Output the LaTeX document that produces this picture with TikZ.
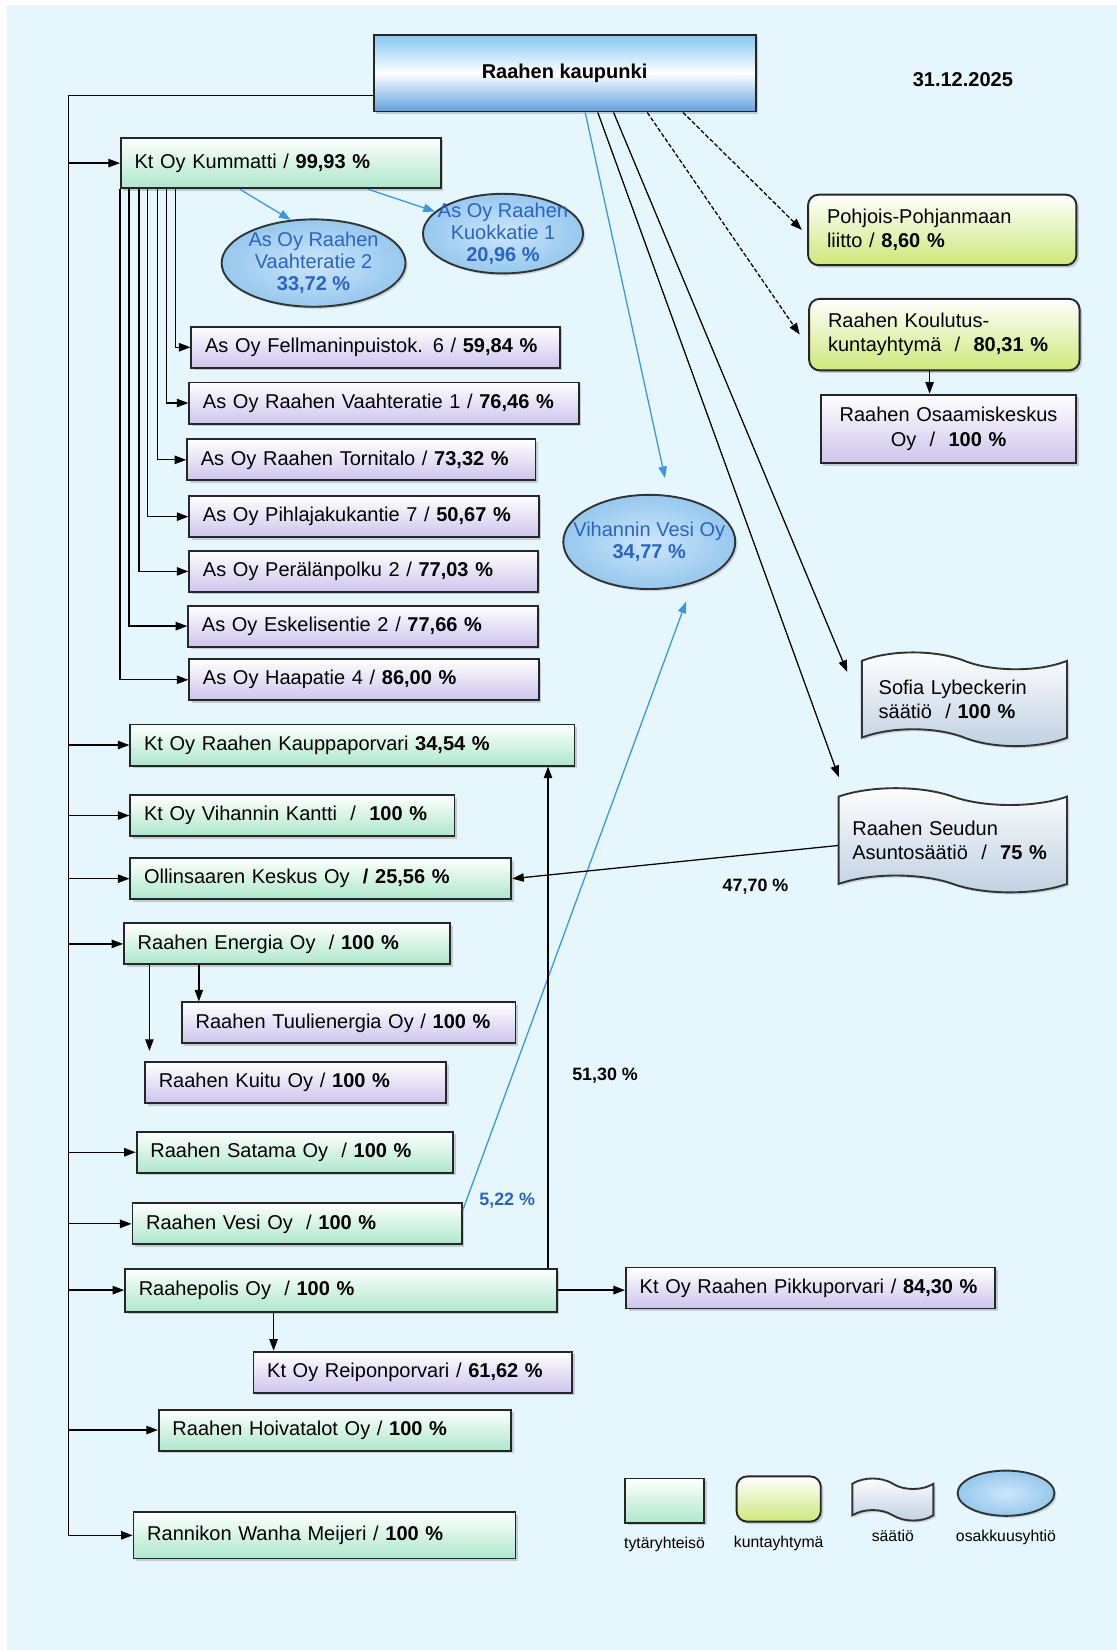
\documentclass[tikz,border=0pt]{standalone}
\usepackage{fontspec}
\setmainfont{Liberation Sans}
\usepackage{tikz}
\usetikzlibrary{calc,shapes,positioning}
\usetikzlibrary{arrows.meta}
\usetikzlibrary{shadows}
\tikzset{>={Triangle[width=4pt,length=5.5pt]}}

\definecolor{bgblue}{RGB}{229,246,252}
\definecolor{mint}{RGB}{172,232,202}
\definecolor{lilac}{RGB}{205,196,236}
\definecolor{lime}{RGB}{205,232,120}
\definecolor{citytop}{RGB}{130,200,242}
\definecolor{citybot}{RGB}{95,160,222}
\definecolor{ovalblue}{RGB}{150,200,238}
\definecolor{ovallight}{RGB}{205,230,250}
\definecolor{linkblue}{RGB}{55,150,230}
\definecolor{textblue}{RGB}{40,100,200}
\definecolor{flaggray}{RGB}{190,208,225}

\newcommand{\boxfont}{\fontsize{9.5}{11.5}\selectfont}
\newcommand{\ovalfont}{\fontsize{9.5}{10.5}\selectfont}
\newcommand{\legfont}{\fontsize{7.5}{9}\selectfont}
\newcommand{\pctfont}{\fontsize{8.5}{10}\selectfont\bfseries}

\begin{document}
\begin{tikzpicture}[x=0.5pt, y=-0.5pt, line width=0.6pt]
  \tikzstyle{box} = [draw=black!85, line width=0.9pt, anchor=west, minimum height=19.5pt, inner xsep=6.5pt, inner ysep=2pt, align=left, font=\boxfont, drop shadow={opacity=0.35, shadow xshift=1.2pt, shadow yshift=-1.2pt}]
  \tikzstyle{gbox} = [box, top color=white, bottom color=mint]
  \tikzstyle{lbox} = [box, top color=white, bottom color=lilac]
  \tikzstyle{kbox} = [box, rounded corners=5pt, inner xsep=9pt, top color=white, bottom color=lime]
  \tikzstyle{citybox} = [draw=black!85, line width=0.9pt, minimum width=181.5pt, minimum height=36.5pt, top color=citytop, bottom color=citybot, middle color=white, font=\boxfont\bfseries, drop shadow={opacity=0.35, shadow xshift=1.2pt, shadow yshift=-1.2pt}]
  \tikzstyle{oval} = [ellipse, draw=black!80, line width=0.9pt, inner sep=0pt, inner color=ovallight, outer color=ovalblue, align=center, text=textblue, font=\ovalfont, drop shadow={opacity=0.3, shadow xshift=1pt, shadow yshift=-1pt}]
  \tikzstyle{flag} = [tape, tape bend top=out and in, tape bend bottom=out and in, tape bend height=8pt, draw=black!80, line width=0.9pt, top color=white, bottom color=flaggray, align=left, font=\boxfont, drop shadow={opacity=0.3, shadow xshift=1pt, shadow yshift=-1pt}]
  \tikzstyle{pct} = [font=\pctfont]
  \tikzstyle{legtext} = [font=\legfont, inner sep=1pt]

  \useasboundingbox (0,0) rectangle (1061,1568);
  \fill[white] (0,0) rectangle (1061,1568);
  \fill[bgblue] (7,5) rectangle (1061,1568);

  % owner
  \node[citybox] (city) at (536.5,69.5) {Raahen kaupunki};
  \node[font=\boxfont\bfseries] (date) at (915,76) {31.12.2025};

  % Kummatti and its housing companies
  \node[gbox, text width=139pt, minimum height=24pt] (kummatti) at (114,155) {Kt Oy Kummatti / \textbf{99,93 \%}};
  \node[oval] (vaaht2) at (298,250) {As Oy Raahen\\Vaahteratie 2\\\textbf{33,72 \%}};
  \node[oval, inner xsep=-4pt, inner ysep=-1.3pt] (kuokka) at (478,222) {As Oy Raahen\\Kuokkatie 1\\\textbf{20,96 \%}};
  \node[lbox, text width=162pt] (fellman) at (181,330) {As Oy Fellmaninpuistok. 6 / \textbf{59,84 \%}};
  \node[lbox, text width=172pt] (vaaht1) at (179,383) {As Oy Raahen Vaahteratie 1 / \textbf{76,46 \%}};
  \node[lbox, text width=152.5pt] (tornit) at (177,437) {As Oy Raahen Tornitalo / \textbf{73,32 \%}};
  \node[lbox, text width=153pt] (pihlaja) at (179,491) {As Oy Pihlajakukantie 7 / \textbf{50,67 \%}};
  \node[lbox, text width=152.5pt] (peralan) at (179,543) {As Oy Perälänpolku 2 / \textbf{77,03 \%}};
  \node[lbox, text width=153pt] (eskel) at (178,595) {As Oy Eskelisentie 2 / \textbf{77,66 \%}};
  \node[lbox, text width=153pt] (haapa) at (179,646) {As Oy Haapatie 4 / \textbf{86,00 \%}};

  % subsidiaries on the trunk
  \node[gbox, text width=198pt] (kauppa) at (123,708) {Kt Oy Raahen Kauppaporvari \textbf{34,54 \%}};
  \node[gbox, text width=141pt] (kantti) at (123,775) {Kt Oy Vihannin Kantti \ / \ \textbf{100 \%}};
  \node[gbox, text width=168pt] (olli) at (123,835) {Ollinsaaren Keskus Oy \ \textbf{/ 25,56 \%}};
  \node[gbox, text width=142pt] (energia) at (117,897) {Raahen Energia Oy \ / \textbf{100 \%}};
  \node[lbox, text width=145.5pt] (tuuli) at (172,972) {Raahen Tuulienergia Oy / \textbf{100 \%}};
  \node[lbox, text width=130pt] (kuitu) at (137,1029) {Raahen Kuitu Oy / \textbf{100 \%}};
  \node[gbox, text width=137.5pt] (satama) at (129,1095) {Raahen Satama Oy \ / \textbf{100 \%}};
  \node[gbox, text width=143.5pt] (vesi) at (125,1163) {Raahen Vesi Oy \ / \textbf{100 \%}};
  \node[gbox, text width=192pt, minimum height=20.5pt] (polis) at (118,1226) {Raahepolis Oy \ / \textbf{100 \%}};
  \node[lbox, text width=138.5pt] (reipon) at (240,1304) {Kt Oy Reiponporvari / \textbf{61,62 \%}};
  \node[lbox, text width=162.5pt] (pikku) at (594,1224) {Kt Oy Raahen Pikkuporvari / \textbf{84,30 \%}};
  \node[gbox, text width=154.5pt] (hoiva) at (150,1359) {Raahen Hoivatalot Oy / \textbf{100 \%}};
  \node[gbox, text width=168.5pt, minimum height=22pt] (meijeri) at (126,1459) {Rannikon Wanha Meijeri / \textbf{100 \%}};

  % right column
  \node[kbox, text width=109.5pt, minimum height=33.5pt] (pohjois) at (767,218.5) {Pohjois-Pohjanmaan\\liitto / \textbf{8,60 \%}};
  \node[kbox, text width=110.5pt, minimum height=34pt] (koulutus) at (768,318) {Raahen Koulutus-\\kuntayhtymä \ / \ \textbf{80,31 \%}};
  \node[lbox, text width=108.5pt, minimum height=32.5pt, align=center] (osaamis) at (779,407.5) {Raahen Osaamiskeskus\\Oy \ / \ \textbf{100 \%}};
  \node[oval, inner xsep=-7.2pt, inner ysep=6.4pt] (vihanvesi) at (617,515) {Vihannin Vesi Oy\\\textbf{34,77 \%}};
  \node[flag, minimum width=97.5pt, minimum height=44.5pt, text width=81.5pt, inner xsep=8pt] (sofia) at (916.5,664.5) {Sofia Lybeckerin\\säätiö \ / \textbf{100 \%}};
  \node[flag, minimum width=108.5pt, minimum height=49.5pt, text width=95.5pt, inner xsep=6.5pt] (seutu) at (905.5,798.5) {Raahen Seudun\\Asuntosäätiö \ / \ \textbf{75 \%}};

  \node[pct] (pctseutu) at (718,843) {47,70 \%};
  \node[pct] (pctpolis) at (575,1022) {51,30 \%};
  \node[pct, text=textblue] (pctvesi) at (482,1141) {5,22 \%};

  % legend
  \node[gbox, anchor=center, minimum width=37.5pt, minimum height=21pt] (leg1) at (631.5,1426) {};
  \node[kbox, anchor=center, minimum width=40pt, minimum height=21.5pt] (leg2) at (740,1424.5) {};
  \node[flag, minimum width=38.5pt, minimum height=20pt, tape bend height=5pt] (leg3) at (848.5,1425) {};
  \node[oval, minimum width=46pt, minimum height=21.5pt] (leg4) at (956,1419) {};
  \node[legtext, below=5pt of leg1] (leg1t) {tytäryhteisö};
  \node[legtext, below=5pt of leg2] (leg2t) {kuntayhtymä};
  \node[legtext, below=5pt of leg3] (leg3t) {säätiö};
  \node[legtext, below=5pt of leg4] (leg4t) {osakkuusyhtiö};

  % trunk from the town
  \coordinate (trunktop) at (65,91);
  \draw (city.west |- trunktop) -- (trunktop) -- (trunktop |- meijeri.west);
  \path[->]
  (kummatti.west -| trunktop) edge (kummatti.west)
  (kauppa.west -| trunktop) edge (kauppa.west)
  (kantti.west -| trunktop) edge (kantti.west)
  (olli.west -| trunktop) edge (olli.west)
  (energia.west -| trunktop) edge (energia.west)
  (satama.west -| trunktop) edge (satama.west)
  (vesi.west -| trunktop) edge (vesi.west)
  (polis.west -| trunktop) edge (polis.west)
  (hoiva.west -| trunktop) edge (hoiva.west)
  (meijeri.west -| trunktop) edge (meijeri.west)
  ;

  \draw[->] ($(kummatti.south west)+(53,0)$) |- (fellman.west);
  \draw[->] ($(kummatti.south west)+(44.5,0)$) |- (vaaht1.west);
  \draw[->] ($(kummatti.south west)+(36,0)$) |- (tornit.west);
  \draw[->] ($(kummatti.south west)+(26.5,0)$) |- (pihlaja.west);
  \draw[->] ($(kummatti.south west)+(18,0)$) |- (peralan.west);
  \draw[->] ($(kummatti.south west)+(8.5,0)$) |- (eskel.west);
  \draw[->] (kummatti.south west) |- (haapa.west);

  % associated companies
  \path[->, linkblue]
  ($(kummatti.south west)+(114,0)$) edge (vaaht2.118)
  ($(kummatti.south west)+(236,0)$) edge (kuokka.162)
  ($(city.south west)+(202,0)$) edge ($(vihanvesi.north)+(15,-15)$)
  ($(vesi.east)+(0,-13)$) edge ($(vihanvesi.south)+(35,11)$)
  ;

  % foundations and joint authorities
  \draw[->] ($(city.south west)+(214,0)$) -- ($(seutu.west)+(1,-60)$);
  \draw[->] ($(city.south west)+(229,0)$) -- ($(sofia.west)+(-13,-26)$);
  \draw[->, dash pattern=on 2pt off 1pt] ($(city.south west)+(295,0)$) -- ($(pohjois.west)+(-5,0)$);
  \draw[->, dash pattern=on 2pt off 1pt] ($(city.south west)+(261,0)$) -- ($(koulutus.west)+(-8,0)$);
  \draw[->] ($(koulutus.south)+(-14,0)$) -- ($(osaamis.north)+(-18,0)$);
  \draw[->] ($(seutu.west)+(0,5)$) -- (olli.east);

  % second level
  \draw[->] ($(polis.north east)+(-9,0)$) -- ($(kauppa.south east)+(-26,0)$);
  \draw[->] (polis.east) -- (polis.east -| pikku.west);
  \draw[->] ($(polis.south west)+(142,0)$) -- ($(reipon.north west)+(20,0)$);
  \draw[->] ($(energia.south west)+(72,0)$) -- ($(tuuli.north west)+(17,0)$);
  \draw[->] ($(energia.south west)+(25,0)$) -- ($(kuitu.north west)+(5,-10)$);
\end{tikzpicture}
\end{document}
